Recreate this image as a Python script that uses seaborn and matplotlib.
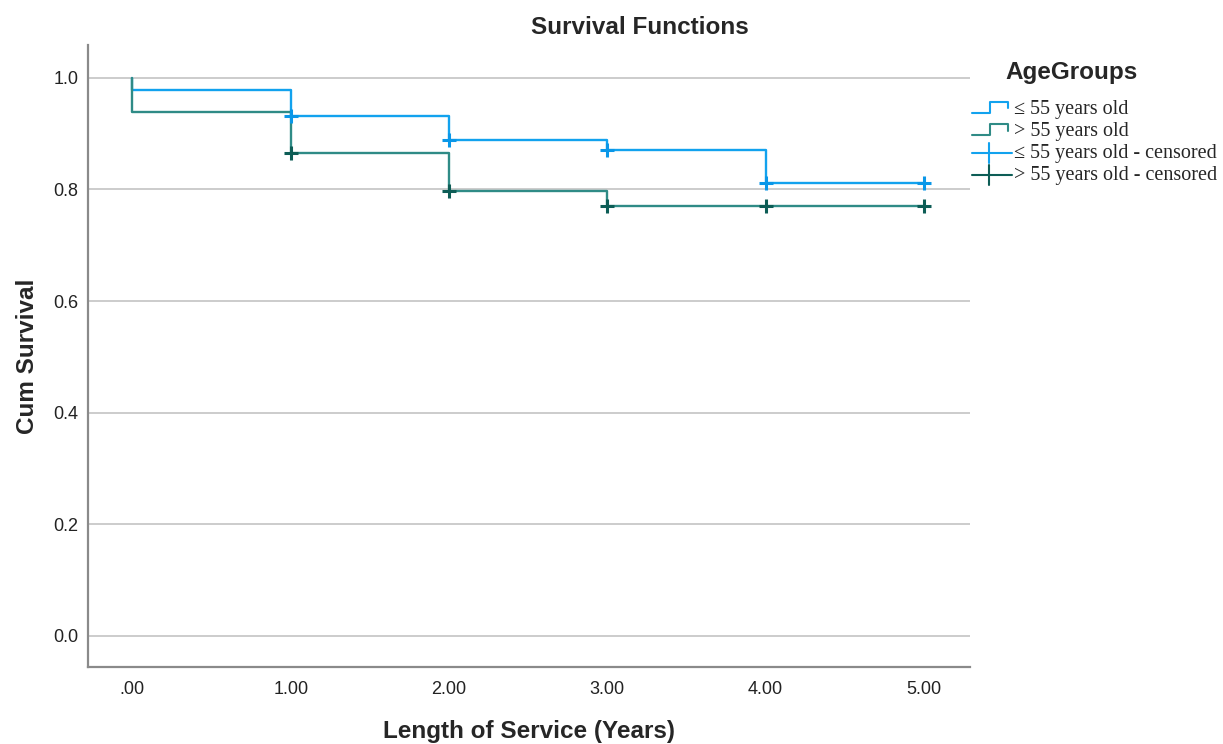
import matplotlib
matplotlib.use("Agg")
import matplotlib.pyplot as plt
import numpy as np
import pandas as pd
import seaborn as sns
from matplotlib.lines import Line2D
from matplotlib.legend_handler import HandlerBase

# step points of the survival curves (time, cum survival)
time_young = [0, 0, 1, 2, 3, 4, 5]
surv_young = [1.0, 0.978, 0.932, 0.889, 0.870, 0.812, 0.812]
time_old = [0, 0, 1, 2, 3, 4, 5]
surv_old = [1.0, 0.939, 0.866, 0.798, 0.771, 0.771, 0.771]

# censored observations
cens_time_young = [1, 2, 3, 4, 5]
cens_surv_young = [0.932, 0.889, 0.870, 0.812, 0.812]
cens_time_old = [1, 2, 3, 4, 5]
cens_surv_old = [0.866, 0.798, 0.771, 0.771, 0.771]

groups = ["\u2264 55 years old", "> 55 years old"]
x_ticks = [0, 1, 2, 3, 4, 5]
x_tick_labels = [".00", "1.00", "2.00", "3.00", "4.00", "5.00"]
y_ticks = [0.0, 0.2, 0.4, 0.6, 0.8, 1.0]

line_colors = ["#12a2ee", "#2f8b86"]
cens_colors = ["#0a97e8", "#0d5d56"]

sns.set_style("white")
plt.rcParams["font.family"] = ["Liberation Sans", "DejaVu Sans"]

curves = pd.DataFrame({
    "time": time_young + time_old,
    "surv": surv_young + surv_old,
    "group": [groups[0]] * len(time_young) + [groups[1]] * len(time_old),
})
censored = pd.DataFrame({
    "time": cens_time_young + cens_time_old,
    "surv": cens_surv_young + cens_surv_old,
    "group": [groups[0]] * len(cens_time_young) + [groups[1]] * len(cens_time_old),
})

fig = plt.figure(figsize=(12.23, 7.44), dpi=100)
ax = fig.add_axes([0.072, 0.1035, 0.721, 0.836])

for ycoord in y_ticks:
    ax.axhline(ycoord, color="#c8c8c8", lw=1.3, zorder=0)

sns.lineplot(data=curves, x="time", y="surv", hue="group", palette=line_colors,
             estimator=None, sort=False, drawstyle="steps-post", lw=1.7,
             legend=False, ax=ax)
for g, c in zip(groups, cens_colors):
    sub = censored[censored.group == g]
    sns.scatterplot(data=sub, x="time", y="surv", marker="+", s=110,
                    color=c, linewidth=2.2, legend=False, ax=ax, zorder=5)

ax.set_xlim(-0.28, 5.29)
ax.set_ylim(-0.056, 1.059)
ax.set_xticks(x_ticks)
ax.set_xticklabels(x_tick_labels)
ax.set_yticks(y_ticks)
ax.set_yticklabels([f"{v:.1f}" for v in y_ticks])
ax.tick_params(length=0, labelsize=13, colors="#222222")
ax.tick_params(axis="x", pad=10)
ax.tick_params(axis="y", pad=7)
for side in ["top", "right"]:
    ax.spines[side].set_visible(False)
for side in ["left", "bottom"]:
    ax.spines[side].set_color("#8a8a8a")
    ax.spines[side].set_linewidth(1.6)

ax.set_xlabel("Length of Service (Years)", fontsize=17.5, fontweight="bold", labelpad=16)
ax.set_ylabel("Cum Survival", fontsize=17.5, fontweight="bold", labelpad=10)
fig.text(640 / 1223, 1 - 27 / 744, "Survival Functions", fontsize=17.5,
         fontweight="bold", ha="center", va="center")


class StepHandler(HandlerBase):
    def create_artists(self, legend, orig, xd, yd, w, h, fontsize, trans):
        xs = [xd, xd + w * 0.45, xd + w * 0.45, xd + w * 0.9, xd + w * 0.9]
        ys = [yd + h * 0.1, yd + h * 0.1, yd + h * 0.85, yd + h * 0.85, yd + h * 0.4]
        ln = Line2D(xs, ys, color=orig.get_color(), lw=1.5, transform=trans)
        return [ln]


class CrossHandler(HandlerBase):
    def create_artists(self, legend, orig, xd, yd, w, h, fontsize, trans):
        ln = Line2D([xd, xd + w], [yd + h * 0.4, yd + h * 0.4], color=orig.get_color(),
                    lw=1.5, transform=trans)
        vt = Line2D([xd + w * 0.42, xd + w * 0.42], [yd - h * 0.3, yd + h * 1.1],
                    color=orig.get_color(), lw=1.5, transform=trans)
        return [ln, vt]


class CrossLine(Line2D):
    pass


handles = [Line2D([], [], color=line_colors[0]), Line2D([], [], color=line_colors[1]),
           CrossLine([], [], color=line_colors[0]), CrossLine([], [], color=cens_colors[1])]
labels = [groups[0], groups[1], groups[0] + " - censored", groups[1] + " - censored"]
leg = fig.legend(handles, labels, loc="upper left", bbox_to_anchor=(966 / 1223, 1 - 94 / 744),
                 frameon=False, handlelength=2.0, handletextpad=0.1,
                 labelspacing=0.15, borderaxespad=0, borderpad=0.3,
                 prop={"family": "Liberation Serif", "size": 14.5},
                 handler_map={CrossLine: CrossHandler(), Line2D: StepHandler()})
fig.text(1072 / 1223, 1 - 72 / 744, "AgeGroups", fontsize=17.5, fontweight="bold",
         ha="center", va="center")

fig.savefig("out.png", dpi=100)
